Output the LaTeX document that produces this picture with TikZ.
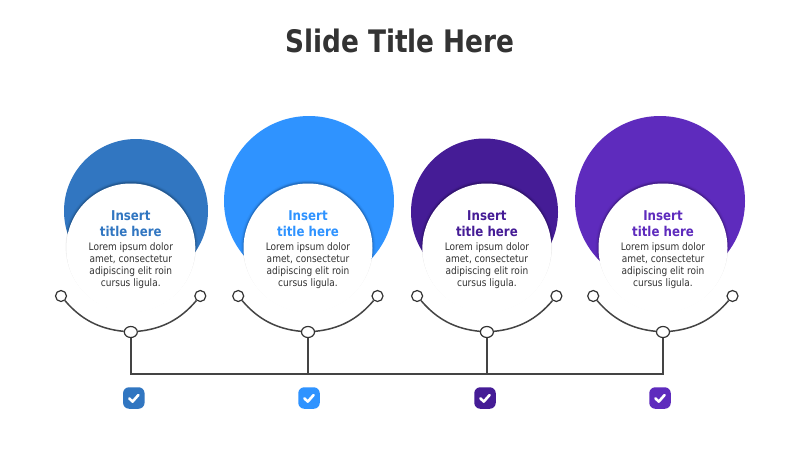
\documentclass[tikz,border=0pt]{standalone}
\usepackage{fontspec}
\setmainfont[FakeStretch=0.875]{DejaVu Sans}
\newfontfamily\titlefont[FakeStretch=0.85]{DejaVu Sans}
\definecolor{cA}{HTML}{3176C1}
\definecolor{cB}{HTML}{2F93FF}
\definecolor{cC}{HTML}{451C96}
\definecolor{cD}{HTML}{5E2BBD}
\definecolor{ink}{HTML}{333333}
\definecolor{wirecol}{HTML}{444444}
\usetikzlibrary{shapes.geometric}
\tikzset{
  blob/.style={circle,inner sep=0pt,minimum size=#1,fill=blobcol},
  disc/.style={circle,inner sep=0pt,minimum size=129pt,fill=white},
  ring/.style={circle,inner sep=0pt,minimum size=11pt,draw=ink,fill=white,line width=1.2pt},
  hub/.style={ellipse,inner sep=0pt,minimum width=13pt,minimum height=11pt,draw=ink,fill=white,line width=1.2pt},
  wire/.style={draw=wirecol,line width=1.5pt},
  headtxt/.style={align=center,font=\fontsize{13.5}{16}\selectfont\bfseries,inner sep=0pt},
  bodytxt/.style={align=center,font=\fontsize{10.3}{12}\selectfont,text=ink,inner sep=0pt},
  chip/.style={rectangle,rounded corners=6pt,inner sep=0pt,minimum size=21.5pt},
  tick/.style={draw=white,line width=2.6pt,line cap=round,line join=round},
  slidetitle/.style={font=\fontsize{31}{36}\titlefont\bfseries,text=ink,inner sep=0pt}
}
\begin{document}
\begin{tikzpicture}[x=1pt,y=-1pt]
\useasboundingbox (0,0) rectangle (800,450);
\fill[white] (0,0) rectangle (800,450);
\node[slidetitle] (title) at (400,41) {Slide Title Here};
\coordinate (tA) at (130.8,373.9);
\coordinate (tB) at (308,373.9);
\coordinate (tC) at (486.9,373.9);
\coordinate (tD) at (663,373.9);
\foreach \n/\bx/\by/\bd/\dx/\col/\chipx in {
  A/136/211/144/130.8/cA/133.8,
  B/309/201/170/308/cB/309,
  C/484.5/212/147/486.9/cC/485,
  D/660/201/170/663/cD/660}{
  \colorlet{blobcol}{\col}
  \node[blob=\bd pt] (blob\n) at (\bx,\by) {};
  \begin{scope}
    \clip (\bx,\by) circle ({\bd/2});
    \foreach \rr/\op in {3/0.03,2/0.05,1/0.08}{
      \fill[black,opacity=\op] (\dx,247.5) circle ({64.5+\rr});
    }
  \end{scope}
  \fill[black,opacity=0.05] (\dx,246.6) circle (65.2);
  \fill[black,opacity=0.04] (\dx,247) circle (64.9);
  \node[disc] (disc\n) at (\dx,248) {};
  \node[ring] (l\n) at ({\dx-69.8},296) {};
  \node[ring] (r\n) at ({\dx+69.5},296) {};
  \node[hub] (h\n) at (\dx,332) {};
  \draw[wire] (l\n) to[bend right=22,looseness=.95] (h\n);
  \draw[wire] (h\n) to[bend right=22,looseness=.95] (r\n);
  \draw[wire] (h\n) -- (t\n);
  \node[headtxt,text=\col] (head\n) at (\dx,223.5) {Insert\\title here};
  \node[bodytxt] (body\n) at (\dx,265.8) {Lorem ipsum dolor\\amet, consectetur\\adipiscing elit roin\\cursus ligula.};
  \node[chip,fill=\col] (chip\n) at (\chipx,398) {};
  \draw[tick] ([shift={(-4.6,0.4)}]chip\n.center) -- ([shift={(-1.2,3.6)}]chip\n.center) -- ([shift={(4.6,-3)}]chip\n.center);
}
\draw[wire,line cap=rect] (tA) -- (tD);
\end{tikzpicture}
\end{document}
